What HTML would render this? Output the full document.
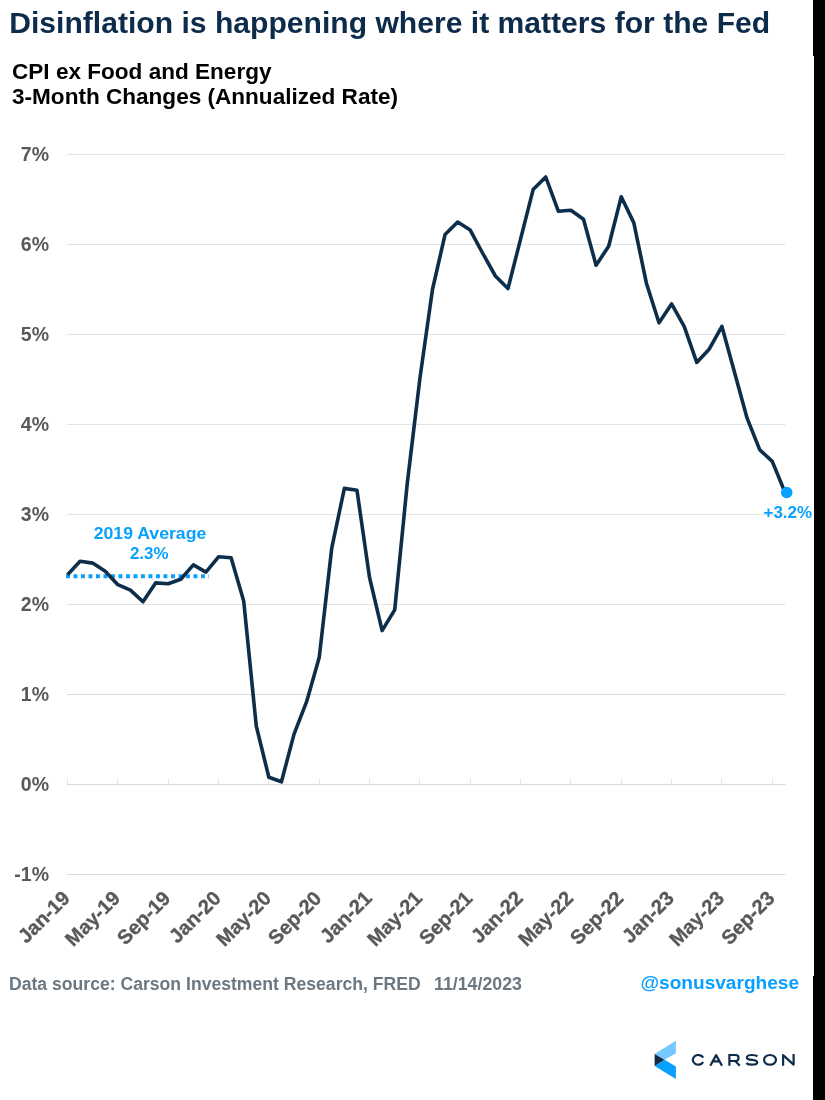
<!DOCTYPE html>
<html><head><meta charset="utf-8"><style>
html,body{margin:0;padding:0;background:#fff;width:825px;height:1100px;overflow:hidden}
svg{display:block;will-change:transform}
</style></head><body>
<svg width="825" height="1100" viewBox="0 0 825 1100">
<rect width="825" height="1100" fill="#fff"/>
<line x1="67.0" y1="874.5" x2="785.3" y2="874.5" stroke="#d9d9d9" stroke-width="1"/>
<text x="49" y="880.9" text-anchor="end" font-size="19.5" fill="#595959" font-family="'Liberation Sans', sans-serif" font-weight="bold">-1%</text>
<line x1="67.0" y1="784.5" x2="785.3" y2="784.5" stroke="#d9d9d9" stroke-width="1"/>
<text x="49" y="790.9" text-anchor="end" font-size="19.5" fill="#595959" font-family="'Liberation Sans', sans-serif" font-weight="bold">0%</text>
<line x1="67.0" y1="694.5" x2="785.3" y2="694.5" stroke="#d9d9d9" stroke-width="1"/>
<text x="49" y="700.9" text-anchor="end" font-size="19.5" fill="#595959" font-family="'Liberation Sans', sans-serif" font-weight="bold">1%</text>
<line x1="67.0" y1="604.5" x2="785.3" y2="604.5" stroke="#e3e3e3" stroke-width="1"/>
<text x="49" y="610.9" text-anchor="end" font-size="19.5" fill="#595959" font-family="'Liberation Sans', sans-serif" font-weight="bold">2%</text>
<line x1="67.0" y1="514.5" x2="785.3" y2="514.5" stroke="#e3e3e3" stroke-width="1"/>
<text x="49" y="520.9" text-anchor="end" font-size="19.5" fill="#595959" font-family="'Liberation Sans', sans-serif" font-weight="bold">3%</text>
<line x1="67.0" y1="424.5" x2="785.3" y2="424.5" stroke="#e3e3e3" stroke-width="1"/>
<text x="49" y="430.9" text-anchor="end" font-size="19.5" fill="#595959" font-family="'Liberation Sans', sans-serif" font-weight="bold">4%</text>
<line x1="67.0" y1="334.5" x2="785.3" y2="334.5" stroke="#e3e3e3" stroke-width="1"/>
<text x="49" y="340.9" text-anchor="end" font-size="19.5" fill="#595959" font-family="'Liberation Sans', sans-serif" font-weight="bold">5%</text>
<line x1="67.0" y1="244.5" x2="785.3" y2="244.5" stroke="#e3e3e3" stroke-width="1"/>
<text x="49" y="250.9" text-anchor="end" font-size="19.5" fill="#595959" font-family="'Liberation Sans', sans-serif" font-weight="bold">6%</text>
<line x1="67.0" y1="154.5" x2="785.3" y2="154.5" stroke="#e3e3e3" stroke-width="1"/>
<text x="49" y="160.9" text-anchor="end" font-size="19.5" fill="#595959" font-family="'Liberation Sans', sans-serif" font-weight="bold">7%</text>
<line x1="67.5" y1="778.0" x2="67.5" y2="784.0" stroke="#e6e6e6" stroke-width="1"/>
<line x1="117.5" y1="778.0" x2="117.5" y2="784.0" stroke="#e6e6e6" stroke-width="1"/>
<line x1="168.5" y1="778.0" x2="168.5" y2="784.0" stroke="#e6e6e6" stroke-width="1"/>
<line x1="218.5" y1="778.0" x2="218.5" y2="784.0" stroke="#e6e6e6" stroke-width="1"/>
<line x1="268.5" y1="778.0" x2="268.5" y2="784.0" stroke="#e6e6e6" stroke-width="1"/>
<line x1="319.5" y1="778.0" x2="319.5" y2="784.0" stroke="#e6e6e6" stroke-width="1"/>
<line x1="369.5" y1="778.0" x2="369.5" y2="784.0" stroke="#e6e6e6" stroke-width="1"/>
<line x1="419.5" y1="778.0" x2="419.5" y2="784.0" stroke="#e6e6e6" stroke-width="1"/>
<line x1="470.5" y1="778.0" x2="470.5" y2="784.0" stroke="#e6e6e6" stroke-width="1"/>
<line x1="520.5" y1="778.0" x2="520.5" y2="784.0" stroke="#e6e6e6" stroke-width="1"/>
<line x1="570.5" y1="778.0" x2="570.5" y2="784.0" stroke="#e6e6e6" stroke-width="1"/>
<line x1="621.5" y1="778.0" x2="621.5" y2="784.0" stroke="#e6e6e6" stroke-width="1"/>
<line x1="671.5" y1="778.0" x2="671.5" y2="784.0" stroke="#e6e6e6" stroke-width="1"/>
<line x1="721.5" y1="778.0" x2="721.5" y2="784.0" stroke="#e6e6e6" stroke-width="1"/>
<line x1="772.5" y1="778.0" x2="772.5" y2="784.0" stroke="#e6e6e6" stroke-width="1"/>
<text x="71.0" y="899.5" text-anchor="end" font-size="20" fill="#595959" stroke="#595959" stroke-width="0.35" font-family="'Liberation Sans', sans-serif" font-weight="bold" transform="rotate(-45 71.0 899.5)">Jan-19</text>
<text x="121.3" y="899.5" text-anchor="end" font-size="20" fill="#595959" stroke="#595959" stroke-width="0.35" font-family="'Liberation Sans', sans-serif" font-weight="bold" transform="rotate(-45 121.3 899.5)">May-19</text>
<text x="171.7" y="899.5" text-anchor="end" font-size="20" fill="#595959" stroke="#595959" stroke-width="0.35" font-family="'Liberation Sans', sans-serif" font-weight="bold" transform="rotate(-45 171.7 899.5)">Sep-19</text>
<text x="222.0" y="899.5" text-anchor="end" font-size="20" fill="#595959" stroke="#595959" stroke-width="0.35" font-family="'Liberation Sans', sans-serif" font-weight="bold" transform="rotate(-45 222.0 899.5)">Jan-20</text>
<text x="272.4" y="899.5" text-anchor="end" font-size="20" fill="#595959" stroke="#595959" stroke-width="0.35" font-family="'Liberation Sans', sans-serif" font-weight="bold" transform="rotate(-45 272.4 899.5)">May-20</text>
<text x="322.7" y="899.5" text-anchor="end" font-size="20" fill="#595959" stroke="#595959" stroke-width="0.35" font-family="'Liberation Sans', sans-serif" font-weight="bold" transform="rotate(-45 322.7 899.5)">Sep-20</text>
<text x="373.0" y="899.5" text-anchor="end" font-size="20" fill="#595959" stroke="#595959" stroke-width="0.35" font-family="'Liberation Sans', sans-serif" font-weight="bold" transform="rotate(-45 373.0 899.5)">Jan-21</text>
<text x="423.4" y="899.5" text-anchor="end" font-size="20" fill="#595959" stroke="#595959" stroke-width="0.35" font-family="'Liberation Sans', sans-serif" font-weight="bold" transform="rotate(-45 423.4 899.5)">May-21</text>
<text x="473.7" y="899.5" text-anchor="end" font-size="20" fill="#595959" stroke="#595959" stroke-width="0.35" font-family="'Liberation Sans', sans-serif" font-weight="bold" transform="rotate(-45 473.7 899.5)">Sep-21</text>
<text x="524.1" y="899.5" text-anchor="end" font-size="20" fill="#595959" stroke="#595959" stroke-width="0.35" font-family="'Liberation Sans', sans-serif" font-weight="bold" transform="rotate(-45 524.1 899.5)">Jan-22</text>
<text x="574.4" y="899.5" text-anchor="end" font-size="20" fill="#595959" stroke="#595959" stroke-width="0.35" font-family="'Liberation Sans', sans-serif" font-weight="bold" transform="rotate(-45 574.4 899.5)">May-22</text>
<text x="624.7" y="899.5" text-anchor="end" font-size="20" fill="#595959" stroke="#595959" stroke-width="0.35" font-family="'Liberation Sans', sans-serif" font-weight="bold" transform="rotate(-45 624.7 899.5)">Sep-22</text>
<text x="675.1" y="899.5" text-anchor="end" font-size="20" fill="#595959" stroke="#595959" stroke-width="0.35" font-family="'Liberation Sans', sans-serif" font-weight="bold" transform="rotate(-45 675.1 899.5)">Jan-23</text>
<text x="725.4" y="899.5" text-anchor="end" font-size="20" fill="#595959" stroke="#595959" stroke-width="0.35" font-family="'Liberation Sans', sans-serif" font-weight="bold" transform="rotate(-45 725.4 899.5)">May-23</text>
<text x="775.8" y="899.5" text-anchor="end" font-size="20" fill="#595959" stroke="#595959" stroke-width="0.35" font-family="'Liberation Sans', sans-serif" font-weight="bold" transform="rotate(-45 775.8 899.5)">Sep-23</text>
<line x1="66" y1="576.3" x2="209" y2="576.3" stroke="#08a0ff" stroke-width="3.9" stroke-dasharray="3.9 3.6"/>
<text x="150" y="538.5" text-anchor="middle" font-size="16.5" fill="#08a0ff" font-family="'Liberation Sans', sans-serif" font-weight="bold" textLength="112.6" lengthAdjust="spacingAndGlyphs">2019 Average</text>
<text x="149.2" y="558.7" text-anchor="middle" font-size="16.5" fill="#08a0ff" font-family="'Liberation Sans', sans-serif" font-weight="bold" textLength="38.6" lengthAdjust="spacingAndGlyphs">2.3%</text>
<polyline points="67.50,574.80 80.09,561.30 92.67,563.10 105.25,571.20 117.84,584.70 130.43,590.10 143.01,601.80 155.59,582.90 168.18,583.80 180.77,579.30 193.35,564.90 205.94,572.10 218.52,556.80 231.11,557.70 243.69,600.90 256.27,726.00 268.86,777.30 281.45,781.80 294.03,734.10 306.62,701.70 319.20,657.60 331.79,547.80 344.37,488.40 356.96,490.20 369.54,577.50 382.12,630.60 394.71,609.90 407.30,483.00 419.88,378.60 432.47,289.50 445.05,234.60 457.64,222.00 470.22,230.10 482.81,253.50 495.39,276.00 507.98,288.60 520.56,239.10 533.14,189.60 545.73,177.00 558.32,211.20 570.90,210.30 583.49,219.30 596.07,265.20 608.66,246.30 621.24,196.80 633.83,222.90 646.41,283.20 659.00,322.80 671.58,303.90 684.17,326.40 696.75,362.40 709.34,348.90 721.92,326.40 734.50,372.30 747.09,418.20 759.68,449.70 772.26,461.40 784.85,492.00" fill="none" stroke="#0c2e4a" stroke-width="3.6" stroke-linejoin="round" stroke-linecap="butt"/>
<circle cx="786.7" cy="492.5" r="5.8" fill="#08a0ff"/>
<text x="812" y="517.7" text-anchor="end" font-size="16.8" fill="#08a0ff" font-family="'Liberation Sans', sans-serif" font-weight="bold" textLength="48.5" lengthAdjust="spacingAndGlyphs">+3.2%</text>
<text x="9.2" y="32.6" font-size="30" fill="#0d2c4b" font-family="'Liberation Sans', sans-serif" font-weight="bold" textLength="761" lengthAdjust="spacingAndGlyphs">Disinflation is happening where it matters for the Fed</text>
<text x="12" y="79.1" font-size="22" fill="#000" font-family="'Liberation Sans', sans-serif" font-weight="bold" textLength="259.5" lengthAdjust="spacingAndGlyphs">CPI ex Food and Energy</text>
<text x="12" y="104.3" font-size="22" fill="#000" font-family="'Liberation Sans', sans-serif" font-weight="bold" textLength="386" lengthAdjust="spacingAndGlyphs">3-Month Changes (Annualized Rate)</text>
<text x="9" y="989.8" font-size="17.5" fill="#6b7882" font-family="'Liberation Sans', sans-serif" font-weight="bold" textLength="411.7" lengthAdjust="spacingAndGlyphs">Data source: Carson Investment Research, FRED</text>
<text x="434" y="989.8" font-size="17.5" fill="#6b7882" font-family="'Liberation Sans', sans-serif" font-weight="bold" textLength="88" lengthAdjust="spacingAndGlyphs">11/14/2023</text>
<text x="640.5" y="988.8" font-size="17.5" fill="#08a0ff" font-family="'Liberation Sans', sans-serif" font-weight="bold" textLength="158.5" lengthAdjust="spacingAndGlyphs">@sonusvarghese</text>
<polygon points="654.6,1053.9 675.9,1040.8 675.9,1053.2 664.5,1059.7" fill="#74c7ff"/>
<polygon points="654.6,1066.0 664.5,1059.7 675.9,1066.5 675.9,1078.9" fill="#08a0ff"/>
<polygon points="654.6,1053.9 664.5,1059.7 654.6,1066.0" fill="#0e2c48"/>
<g fill="none" stroke="#0f2d4a" stroke-width="2.2"><path d="M703.2,1057.65 A5.5,4.85 0 1 0 703.2,1062.05"/><path stroke-linejoin="round" d="M710.3,1065.7 L716.15,1055.1 L722,1065.7 M712.2,1061.4 H720.1"/><path d="M729.4,1065.7 V1055 H735.6 A2.95,3 0 0 1 735.6,1061 H729.4 M735.2,1061 L739.8,1065.7"/><path d="M757.4,1056.4 C756.2,1055.2 754.3,1055 752,1055 C748.6,1055 746.9,1056 746.9,1057.4 C746.9,1059.2 749,1059.6 752,1059.8 C755,1060 757.2,1060.5 757.2,1062.5 C757.2,1064 755,1064.7 752,1064.7 C749.4,1064.7 747.6,1064.3 746.3,1063.1"/><ellipse cx="770" cy="1059.85" rx="6" ry="4.85"/><path stroke-linejoin="round" d="M783.1,1065.7 V1055.1 L793.6,1064.6 V1054"/></g>
<path d="M813,0 H825 V1100 H813 V976 H814 V56 H813 Z" fill="#000"/>
</svg>
</body></html>
